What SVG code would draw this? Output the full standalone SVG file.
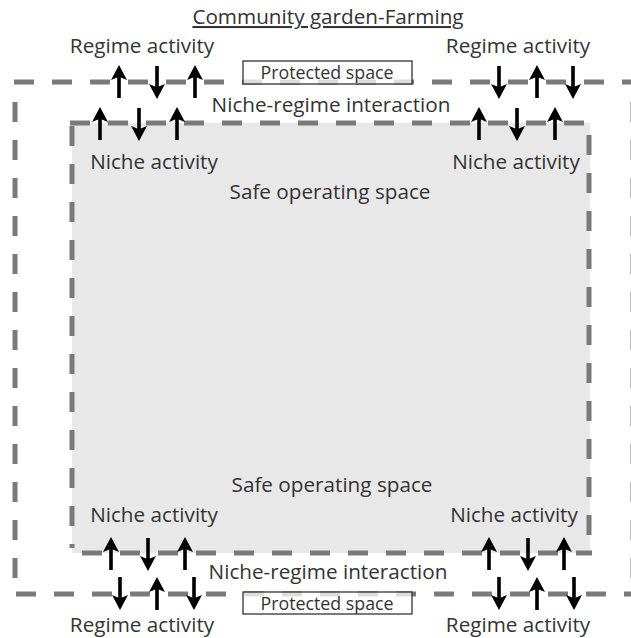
<svg xmlns="http://www.w3.org/2000/svg" width="631" height="638" viewBox="0 0 631 638">
  <style>
    .t { font-family: "Open Sans", "Noto Sans", sans-serif; fill: #333; font-size: 20.7px; text-anchor: middle; }
    .small { font-size: 17.8px; }
    .dash { fill: none; stroke: #7a7a7a; stroke-width: 5; stroke-dasharray: 20 18; }
    .box { fill: #fff; fill-opacity: 0.75; stroke: #333; stroke-width: 1.3; }
  </style>
  <defs>
    <!-- arrow pointing up, tip at origin, 33px long -->
    <path id="up" d="M0,0 L8,15 L1.8,12.5 L1.8,33 L-1.8,33 L-1.8,12.5 L-8,15 Z" fill="#000"/>
    <path id="down" d="M0,33 L8,18 L1.8,20.5 L1.8,0 L-1.8,0 L-1.8,20.5 L-8,18 Z" fill="#000"/>
  </defs>
  <rect width="631" height="638" fill="#fff"/>

  <!-- protected space (outer boundary) -->
  <g id="protected-space">
    <line class="dash" x1="14" y1="82" x2="631" y2="82"/>
    <line class="dash" x1="15" y1="102" x2="15" y2="580"/>
    <line class="dash" x1="16" y1="594" x2="631" y2="594"/>
    <line class="dash" x1="633" y1="102" x2="633" y2="580"/>
  </g>

  <!-- safe operating space (inner area) -->
  <g id="safe-operating-space">
    <rect x="72" y="123" width="518" height="430" fill="#e8e8e8"/>
    <line class="dash" x1="70" y1="123" x2="585" y2="123"/>
    <line class="dash" x1="72" y1="126" x2="72" y2="548"/>
    <line class="dash" x1="589" y1="135" x2="589" y2="550"/>
    <line class="dash" x1="82" y1="553" x2="592" y2="553"/>
    <text class="t" x="330" y="199">Safe operating space</text>
    <text class="t" x="332" y="492">Safe operating space</text>
  </g>

  <g id="title">
    <text class="t" x="328" y="24" text-decoration="underline">Community garden-Farming</text>
  </g>

  <g id="protected-label-top">
    <rect class="box" x="243" y="61" width="169" height="23"/>
    <text class="t small" x="327" y="78.5">Protected space</text>
  </g>
  <g id="protected-label-bottom">
    <rect class="box" x="243" y="592" width="169" height="22"/>
    <text class="t small" x="327" y="609.5">Protected space</text>
  </g>

  <g id="interaction-top"><text class="t" x="331" y="112">Niche-regime interaction</text></g>
  <g id="interaction-bottom"><text class="t" x="328" y="579">Niche-regime interaction</text></g>

  <g id="regime-top-left"><text class="t" x="142" y="53">Regime activity</text></g>
  <g id="regime-top-right"><text class="t" x="518" y="53">Regime activity</text></g>
  <g id="regime-bottom-left"><text class="t" x="142" y="632">Regime activity</text></g>
  <g id="regime-bottom-right"><text class="t" x="518" y="632">Regime activity</text></g>

  <g id="niche-top-left"><text class="t" x="154" y="169">Niche activity</text></g>
  <g id="niche-top-right"><text class="t" x="516" y="169">Niche activity</text></g>
  <g id="niche-bottom-left"><text class="t" x="154" y="522">Niche activity</text></g>
  <g id="niche-bottom-right"><text class="t" x="514" y="522">Niche activity</text></g>

  <!-- exchange arrows across the boundaries -->
  <g id="connectors">
    <use href="#up" x="119" y="65"/>
    <use href="#down" x="157" y="66"/>
    <use href="#up" x="195" y="65"/>
    <use href="#up" x="100" y="107"/>
    <use href="#down" x="139" y="108"/>
    <use href="#up" x="177" y="107"/>

    <use href="#down" x="499" y="66"/>
    <use href="#up" x="537" y="65"/>
    <use href="#down" x="573" y="66"/>
    <use href="#up" x="479" y="107"/>
    <use href="#down" x="517" y="108"/>
    <use href="#up" x="555" y="107"/>

    <use href="#up" x="111" y="537"/>
    <use href="#down" x="148" y="538"/>
    <use href="#up" x="185" y="537"/>
    <use href="#down" x="120" y="577"/>
    <use href="#up" x="157" y="577"/>
    <use href="#down" x="194" y="577"/>

    <use href="#up" x="489" y="537"/>
    <use href="#down" x="528" y="538"/>
    <use href="#up" x="564" y="537"/>
    <use href="#down" x="499" y="577"/>
    <use href="#up" x="537" y="577"/>
    <use href="#down" x="574" y="577"/>
  </g>
</svg>
